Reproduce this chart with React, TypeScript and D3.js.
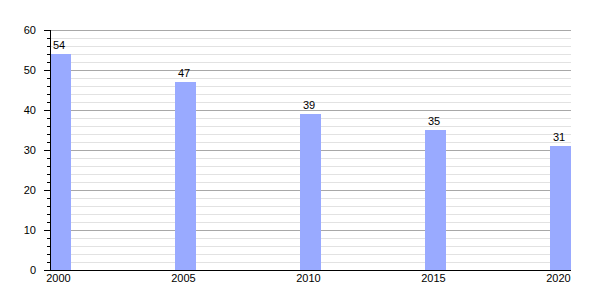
import React from "react";
import * as d3 from "d3";

const years = ["2000", "2005", "2010", "2015", "2020"];
const values = [54, 47, 39, 35, 31];
const majorTicks = [0, 10, 20, 30, 40, 50, 60];

export default function App() {
  const W = 600, H = 300;
  const left = 50, right = 571, top = 30, bottom = 270;
  const barW = 21;
  const y = d3.scaleLinear().domain([0, 60]).range([bottom, top]);
  const x = d3.scaleLinear().domain([0, years.length - 1]).range([left, right - barW]);
  const minor = d3.range(0, 61, 2);
  const font = "Liberation Sans, Arial, sans-serif";
  return (
    <svg width={W} height={H} style={{ position: "absolute", left: 0, top: 0, background: "#fff" }} fontFamily={font}>
      {minor.filter(v => v % 10 !== 0).map(v => (
        <line key={"m" + v} x1={left} x2={right} y1={y(v) + 0.5} y2={y(v) + 0.5} stroke="#e2e2e2" />
      ))}
      {majorTicks.filter(v => v !== 0).map(v => (
        <line key={"g" + v} x1={left} x2={right} y1={y(v) + 0.5} y2={y(v) + 0.5} stroke="#a8a8a8" />
      ))}
      {values.map((v, i) => (
        <rect key={"b" + i} x={x(i)} y={y(v)} width={barW} height={y(0) - y(v)} fill="#99aaff" />
      ))}
      {values.map((v, i) => (
        <text key={"v" + i} x={x(i) + barW / 2 - 1.5} y={y(v) - 5} textAnchor="middle" fontSize={11} fill="#000">{v}</text>
      ))}
      <line x1={left + 0.5} x2={left + 0.5} y1={top} y2={bottom} stroke="#000" />
      <line x1={45} x2={right} y1={bottom + 0.5} y2={bottom + 0.5} stroke="#000" />
      {minor.map(v => (
        <line key={"t" + v} x1={v % 10 === 0 ? 44 : 47} x2={left} y1={y(v) + 0.5} y2={y(v) + 0.5} stroke="#000" />
      ))}
      {majorTicks.map(v => (
        <text key={"yl" + v} x={36} y={y(v) + 4} textAnchor="end" fontSize={11} fill="#000">{v}</text>
      ))}
      {years.map((t, i) => (
        <text key={"xl" + i} x={x(i) + barW / 2 - 2} y={bottom + 12} textAnchor="middle" fontSize={11} fill="#000">{t}</text>
      ))}
    </svg>
  );
}
